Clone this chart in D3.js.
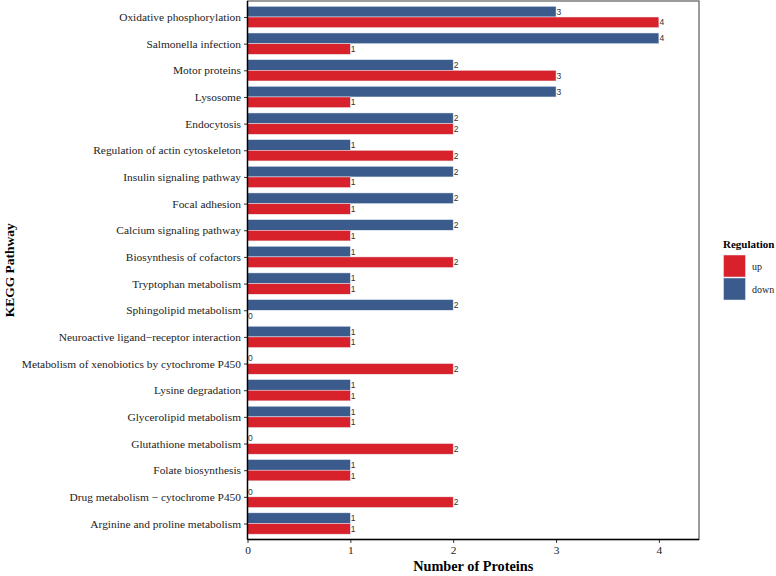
<!DOCTYPE html>
<html><head><meta charset="utf-8">
<script src="https://cdn.jsdelivr.net/npm/d3@7"></script>
<style>body{margin:0;background:#fff}svg{display:block}</style>
</head><body><svg id="c" width="776" height="576"></svg>
<script>
const categories = ["Oxidative phosphorylation","Salmonella infection","Motor proteins","Lysosome","Endocytosis","Regulation of actin cytoskeleton","Insulin signaling pathway","Focal adhesion","Calcium signaling pathway","Biosynthesis of cofactors","Tryptophan metabolism","Sphingolipid metabolism","Neuroactive ligand\u2212receptor interaction","Metabolism of xenobiotics by cytochrome P450","Lysine degradation","Glycerolipid metabolism","Glutathione metabolism","Folate biosynthesis","Drug metabolism \u2212 cytochrome P450","Arginine and proline metabolism"];
const downValues = [3,4,2,3,2,1,2,2,2,1,1,2,1,0,1,1,0,1,0,1];
const upValues   = [4,1,3,1,2,2,1,1,1,2,1,0,1,2,1,1,2,1,2,1];
const seriesNames = ["up","down"];
const seriesColors = ["#D7212B","#3B5B8C"];
const xTicks = [0,1,2,3,4];

const svg = d3.select("#c");
const L = 247.5, R = 699, T = 1, B = 539.5;
const x = d3.scaleLinear().domain([0, 4.39]).range([L, R]);
const n = categories.length;
const step = (B - T) / (n - 1 + 1.2);
const yc = d3.scalePoint().domain(categories).range([T + 0.6*step, B - 0.6*step]);
const bw = step * 0.8 / 2;
const serif = "'Liberation Serif', 'Times New Roman', serif";

svg.append("rect").attr("x", L).attr("y", T).attr("width", R-L).attr("height", B-T)
  .attr("fill","none").attr("stroke","#5a5a5a").attr("stroke-width",1.2);

const rows = categories.map((c,i)=>({c, down: downValues[i], up: upValues[i]}));
const g = svg.append("g");
rows.forEach(r=>{
  const cy = yc(r.c);
  const bars = [{k:"down", v:r.down, y0: cy - bw, col: seriesColors[1]},
                {k:"up", v:r.up, y0: cy, col: seriesColors[0]}];
  bars.forEach(b=>{
    if (b.v > 0) {
      g.append("rect").attr("x", x(0)).attr("y", b.y0).attr("width", x(b.v)-x(0)).attr("height", bw)
        .attr("fill", b.col).attr("stroke","#e8eef5").attr("stroke-width",0.5);
    }
    g.append("text").attr("x", x(b.v)+0.5).attr("y", b.y0 + bw/2).attr("dy","0.36em")
      .attr("font-family","'Liberation Sans', Arial, sans-serif").attr("font-size",8.5)
      .attr("fill","#333").text(b.v);
  });
});

const xAxis = svg.append("g").attr("transform",`translate(0,${B})`)
  .call(d3.axisBottom(x).tickValues(xTicks).tickSize(3.5).tickPadding(3).tickFormat(d3.format("d")));
xAxis.select(".domain").remove();
xAxis.selectAll("line").attr("stroke","#333");
xAxis.selectAll("text").attr("font-family",serif).attr("font-size",11.4).attr("fill","#222");

const yAxis = svg.append("g").attr("transform",`translate(${L},0)`)
  .call(d3.axisLeft(yc).tickSize(3.5).tickPadding(3));
yAxis.select(".domain").remove();
yAxis.selectAll("line").attr("stroke","#333");
yAxis.selectAll("text").attr("font-family",serif).attr("font-size",11.4).attr("fill","#222");

svg.append("line").attr("x1",L).attr("x2",R).attr("y1",B).attr("y2",B).attr("stroke","#000").attr("stroke-width",1.4);
svg.append("line").attr("x1",L).attr("x2",L).attr("y1",T).attr("y2",B).attr("stroke","#000").attr("stroke-width",1.4);

svg.append("text").attr("x",(L+R)/2).attr("y",571).attr("text-anchor","middle")
  .attr("font-family",serif).attr("font-weight","bold").attr("font-size",14.3)
  .text("Number of Proteins");
svg.append("text").attr("transform",`translate(13.5,${(T+B)/2}) rotate(-90)`).attr("text-anchor","middle")
  .attr("font-family",serif).attr("font-weight","bold").attr("font-size",13.5)
  .text("KEGG Pathway");

const lg = svg.append("g");
lg.append("text").attr("x",723).attr("y",248).attr("font-family",serif)
  .attr("font-weight","bold").attr("font-size",11).text("Regulation");
seriesNames.forEach((s,i)=>{
  const y0 = 255 + i*23;
  lg.append("rect").attr("x",723.5).attr("y",y0).attr("width",22).attr("height",22)
    .attr("fill",seriesColors[i]).attr("stroke","#e8eef5").attr("stroke-width",0.5);
  lg.append("text").attr("x",752).attr("y",y0+11).attr("dy","0.35em")
    .attr("font-family",serif).attr("font-size",10).attr("fill","#222").text(s);
});
</script></body></html>
